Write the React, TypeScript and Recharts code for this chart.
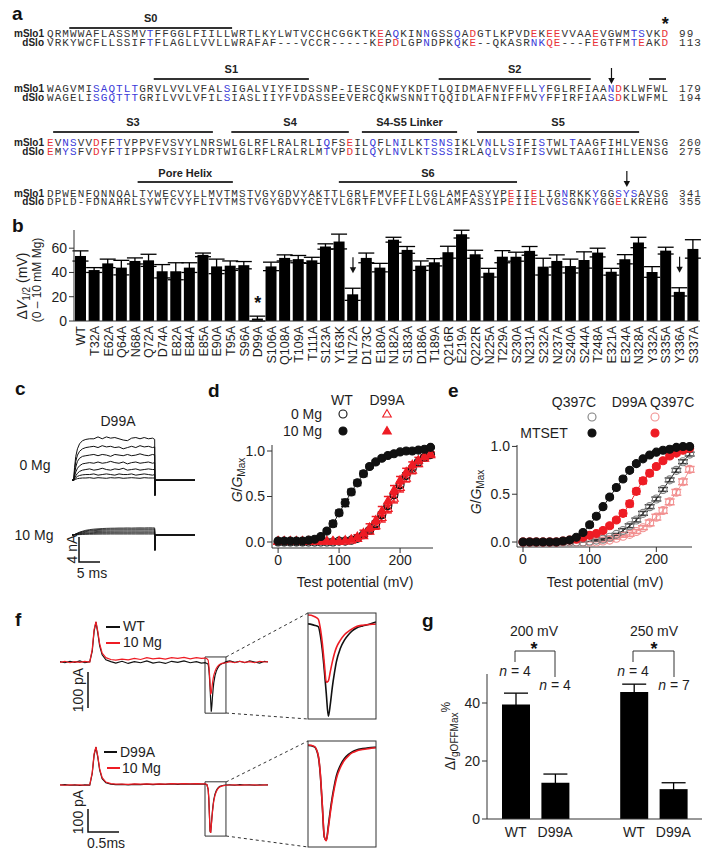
import React from 'react';
import { BarChart, Bar, XAxis, YAxis, ErrorBar, LineChart, Line, ReferenceArea, ReferenceDot } from 'recharts';

const FONT = '"Liberation Sans", Arial, Helvetica, sans-serif';
const MONO = '"Liberation Mono", "Courier New", monospace';
const INK = '#1e1e1e';
const AX = '#333';
const RED = '#ee1c24';
const LRED = '#f29090';
const GREY = '#808080';
const SEQ_INK = '#333';
const SEQ_RED = '#e8343a';
const SEQ_BLUE = '#3a3ad8';

// ---------------- Panel a : alignment ----------------
const mSlo1Seq = [
  'QRMWWAFLASSMVTFFGGLFIILLWRTLKYLWTVCCHCGGKTKEAQKINNGSSQADGTLKPVDEKEEVVAAEVGWMTSVKD',
  'WAGVMISAQTLTGRVLVVLVFALSIGALVIYFIDSSNP-IESCQNFYKDFTLQIDMAFNVFFLLYFGLRFIAANDKLWFWL',
  'EVNSVVDFFTVPPVFVSVYLNRSWLGLRFLRALRLIQFSEILQFLNILKTSNSIKLVNLLSIFISTWLTAAGFIHLVENSG',
  'DPWENFQNNQALTYWECVYLLMVTMSTVGYGDVYAKTTLGRLFMVFFILGGLAMFASYVPEIIELIGNRKKYGGSYSAVSG',
];
const dSloSeq = [
  'VRKYWCFLLSSIFTFLAGLLVVLLWRAFAF---VCCR-----KEPDLGPNDPKQKE--QKASRNKQE---FEGTFMTEAKD',
  'WAGELISGQTTTGRILVVLVFILSIASLIIYFVDASSEEVERCQKWSNNITQQIDLAFNIFFMVYFFIRFIAASDKLWFML',
  'EMYSFVDYFTIPPSFVSIYLDRTWIGLRFLRALRLMTVPDILQYLNVLKTSSSIRLAQLVSIFISVWLTAAGIIHLLENSG',
  'DPLD-FDNAHRLSYWTCVYFLIVTMSTVGYGDVYCETVLGRTFLVFFLLVGLAMFASSIPEIIELVGSGNKYGGELKREHG',
];
const mSlo1End = ['99', '179', '260', '341'];
const dSloEnd = ['113', '194', '275', '355'];
const mSlo1Blue = [
  [14, 46, 50, 54, 77, 78],
  [7, 8, 9, 10, 11, 12, 24, 65, 74],
  [3, 4, 10, 37, 43, 46, 50, 51, 52, 53, 58, 61, 65, 69],
  [68, 72, 75, 76, 77],
];
const mSlo1Red = [[44, 56, 64, 66, 67, 72, 81], [75], [1, 7, 40], [61, 64]];
const dSloBlue = [
  [14, 50, 54, 64, 65, 77],
  [7, 8, 9, 10, 11, 12, 24, 65, 74],
  [3, 4, 10, 37, 43, 46, 50, 51, 52, 53, 58, 61, 65],
  [68, 72],
];
const dSloRed = [[44, 46, 56, 66, 67, 72, 78, 81], [75], [1, 7, 40], [61, 64, 75]];
const segLabels = ['S0', 'S1', 'S2', '', 'S3', 'S4', 'S4-S5 Linker', 'S5', 'Pore Helix', 'S6'];
const segRows = [0, 1, 1, 1, 2, 2, 2, 2, 3, 3];
const segFrom = [2.9, 13.9, 51, 78.4, 0.8, 24, 41, 56, 11.8, 38];
const segTo = [24.1, 34.1, 70.8, 80.6, 21.6, 39.3, 53.4, 77.1, 24.2, 61.2];
const seqStarRow = 0, seqStarCol = 81;
const seqArrowRows = [1, 3];
const seqArrowCols = [74, 76];

// ---------------- Panel b ----------------
const bNames = ['WT','T32A','E62A','Q64A','N68A','Q72A','D74A','E82A','E84A','E85A','E90A','T95A','S96A','D99A','S106A','Q108A','T109A','T111A','S123A','Y163K','N172A','D173C','E180A','N182A','S183A','D186A','T189A','Q216R','E219A','Q222R','N225A','T229A','S230A','N231A','S232A','N237A','S240A','S244A','T248A','E321A','E324A','N328A','Y332A','S335A','Y336A','S337A'];
const bValues = [53.6,42,47.5,44,49.5,50,41,41,44,54.5,45,45.6,46,2,45,52,51,50,61.4,65.5,22,52,44,67,58.6,45.6,48.4,56.7,71.6,55,39.8,53,53,57.8,44.8,49.5,45.3,50.3,56.4,40.6,50.9,64.7,40.4,58,24,59.4];
const bErrors = [4.2,2,3.5,6,2.5,5,5.5,7,4,1.5,6,3.9,3,2,3.5,2.5,3,2.5,2.2,6.1,5,4,3.5,2,2.8,3.9,3,4.9,3.2,3.3,3.6,5,3.7,3.6,6.9,5,5.7,6.7,3.6,2.8,3.8,4.3,4.4,2.8,3.4,7.6];
const bStarred = ['D99A'];
const bArrowed = ['N172A', 'Y336A'];

// ---------------- Panel c ----------------
const tC = [0,0.4,0.6,0.9,1.3,1.8,2.5,3.3,4.2,5.2,6.2,7.2,8.2,9.2,10.2,11.2,12.2,13.2,14.2,15.2,16.2,17.2,18.2,19.2,19.7,19.76,19.82,29.3];
const c0Mg = [
  [0,0,2.0,3.8,5.0,5.8,6.3,6.5,6.6,6.6,6.9,6.6,6.9,6.7,6.8,6.6,6.4,6.3,6.7,6.8,6.6,6.8,6.6,6.7,6.5,-2.4,0,0],
  [0,0,1.5,3.0,4.0,4.6,5.0,5.2,5.3,5.4,5.2,5.5,5.3,5.4,5.2,5.3,5.0,5.2,5.4,5.2,5.5,5.3,5.4,5.2,5.3,-2.4,0,0],
  [0,0,1.0,2.1,3.0,3.5,3.8,3.9,4.0,4.1,3.9,4.1,4.0,3.8,4.1,4.0,3.9,4.1,3.9,4.0,4.2,4.0,3.9,4.1,4.0,-2.4,0,0],
  [0,0,0.6,1.3,1.9,2.3,2.6,2.7,2.8,2.7,2.9,2.7,2.8,3.0,2.8,2.7,2.9,2.6,2.8,2.9,2.7,2.8,2.9,2.7,2.8,-2.4,0,0],
  [0,0,0.3,0.7,1.1,1.4,1.6,1.7,1.8,1.6,1.7,1.9,1.7,1.6,1.8,1.7,1.9,1.6,1.7,1.8,1.6,1.7,1.8,1.7,1.7,-2.4,0,0],
  [0,0,0.15,0.4,0.6,0.75,0.85,0.9,0.9,1.0,0.8,0.9,1.0,0.9,0.8,1.0,0.9,0.9,1.0,0.8,0.9,1.0,0.9,0.8,0.9,-2.4,0,0],
  [0,0,0.05,0.15,0.25,0.3,0.35,0.35,0.4,0.3,0.4,0.35,0.3,0.4,0.35,0.4,0.3,0.35,0.4,0.35,0.3,0.4,0.35,0.35,0.35,-2.4,0,0],
];
const c10Mg = [
  [0,0,0.08,0.18,0.3,0.45,0.6,0.75,0.85,0.93,0.98,1.02,1.05,1.07,1.08,1.1,1.1,1.12,1.1,1.12,1.13,1.12,1.14,1.13,1.12,-2.4,0,0],
  [0,0,0.07,0.15,0.26,0.39,0.52,0.65,0.74,0.81,0.86,0.89,0.91,0.93,0.94,0.95,0.95,0.96,0.95,0.96,0.97,0.96,0.97,0.97,0.96,-2.4,0,0],
  [0,0,0.06,0.13,0.22,0.33,0.44,0.55,0.63,0.69,0.73,0.75,0.77,0.78,0.79,0.8,0.8,0.81,0.8,0.81,0.82,0.81,0.82,0.82,0.81,-2.4,0,0],
  [0,0,0.04,0.1,0.17,0.25,0.34,0.42,0.48,0.53,0.56,0.58,0.6,0.6,0.61,0.62,0.62,0.63,0.62,0.63,0.63,0.62,0.63,0.63,0.62,-2.4,0,0],
  [0,0,0.03,0.07,0.12,0.18,0.24,0.3,0.35,0.38,0.41,0.42,0.43,0.44,0.44,0.45,0.45,0.45,0.45,0.46,0.45,0.45,0.46,0.45,0.45,-2.4,0,0],
  [0,0,0.02,0.05,0.08,0.12,0.16,0.2,0.23,0.25,0.27,0.28,0.29,0.29,0.3,0.3,0.3,0.3,0.3,0.31,0.3,0.3,0.31,0.3,0.3,-2.4,0,0],
  [0,0,0.01,0.02,0.04,0.06,0.08,0.1,0.11,0.12,0.13,0.14,0.14,0.15,0.15,0.15,0.15,0.15,0.15,0.15,0.15,0.15,0.15,0.15,0.15,-2.4,0,0],
];

// ---------------- Panel d ----------------
const vD = [0,10,20,30,40,50,60,70,80,90,100,110,120,130,140,150,160,170,180,190,200,210,220,230,240,250];
const dWT10 = [0.01,0.01,0.01,0.01,0.01,0.02,0.03,0.06,0.12,0.2,0.32,0.43,0.55,0.65,0.75,0.83,0.88,0.92,0.95,0.97,0.99,1.0,1.0,1.01,1.02,1.04];
const dWT10Err = [0,0,0,0,0,0.01,0.01,0.01,0.02,0.03,0.03,0.04,0.03,0.03,0.03,0.02,0.02,0.02,0.01,0.01,0.01,0.01,0.01,0.01,0.01,0.01];
const dWT0 = [0,0,0,0,0,0,0,0,0,0,0.01,0.01,0.02,0.04,0.08,0.13,0.2,0.3,0.4,0.52,0.63,0.73,0.81,0.88,0.93,0.96];
const dWT0Err = [0,0,0,0,0,0,0,0,0,0,0,0.01,0.01,0.01,0.02,0.02,0.03,0.03,0.03,0.03,0.03,0.03,0.02,0.02,0.02,0.02];
const dD99A0 = [0.01,0.01,0.01,0.01,0.01,0.01,0.01,0.01,0.01,0.01,0.01,0.01,0.02,0.04,0.07,0.12,0.18,0.27,0.37,0.48,0.6,0.7,0.79,0.86,0.92,0.96];
const dD99A0Err = [0,0,0,0,0,0,0,0,0,0,0.01,0.01,0.01,0.02,0.02,0.03,0.04,0.05,0.05,0.05,0.05,0.04,0.04,0.03,0.03,0.03];
const dD99A10 = [0.01,0.01,0.01,0.01,0.01,0.01,0.01,0.01,0.01,0.01,0.01,0.02,0.03,0.06,0.1,0.16,0.24,0.34,0.45,0.57,0.68,0.77,0.85,0.9,0.94,0.97];
const dD99A10Err = [0,0,0,0,0,0,0,0,0,0,0.01,0.01,0.01,0.02,0.03,0.04,0.04,0.05,0.05,0.05,0.04,0.04,0.03,0.03,0.02,0.02];

// ---------------- Panel e ----------------
const vE = [0,10,20,30,40,50,60,70,80,90,100,110,120,130,140,150,160,170,180,190,200,210,220,230,240,250];
const eQ = [0,0,0,0,0,0,0,0,0,0,0.01,0.02,0.03,0.05,0.08,0.12,0.17,0.23,0.3,0.37,0.45,0.55,0.65,0.75,0.84,0.92];
const eQErr = [0,0,0,0,0,0,0,0,0,0,0,0.01,0.01,0.01,0.01,0.02,0.02,0.02,0.02,0.02,0.02,0.02,0.02,0.02,0.02,0.02];
const eDQ = [0,0,0,0,0,0,0,0,0,0,0,0,0.01,0.02,0.04,0.06,0.08,0.11,0.15,0.2,0.26,0.33,0.42,0.52,0.63,0.76];
const eDQErr = [0,0,0,0,0,0,0,0,0,0,0,0,0.01,0.01,0.01,0.01,0.02,0.02,0.02,0.03,0.03,0.03,0.03,0.03,0.03,0.03];
const eQM = [0,0,0,0,0,0,0.01,0.02,0.05,0.1,0.18,0.27,0.37,0.47,0.57,0.66,0.75,0.82,0.87,0.91,0.94,0.96,0.97,0.99,1.0,1.0];
const eQMErr = [0,0,0,0,0,0,0,0.01,0.01,0.01,0.02,0.02,0.02,0.02,0.02,0.02,0.02,0.02,0.01,0.01,0.01,0.01,0.01,0.01,0.01,0.01];
const eDQM = [0,0,0,0,0,0,0.01,0.02,0.03,0.05,0.07,0.09,0.12,0.17,0.23,0.3,0.4,0.53,0.64,0.72,0.79,0.85,0.9,0.93,0.96,0.98];
const eDQMErr = [0,0,0,0,0,0,0,0,0.01,0.01,0.01,0.01,0.02,0.02,0.02,0.03,0.03,0.03,0.03,0.03,0.02,0.02,0.02,0.02,0.02,0.01];

// ---------------- Panel f ----------------
const tF = [0,0.08,0.16,0.24,0.32,0.4,0.48,0.52,0.55,0.58,0.61,0.64,0.68,0.74,0.82,0.9,1.0,1.1,1.2,1.3,1.4,1.5,1.6,1.7,1.8,1.9,2.0,2.1,2.2,2.28,2.34,2.37,2.39,2.40,2.41,2.42,2.43,2.44,2.45,2.46,2.47,2.48,2.50,2.52,2.54,2.56,2.58,2.61,2.64,2.68,2.74,2.82,2.9,2.98,3.06,3.14,3.22,3.3,3.355];
const fWT = [1,-2,2,-1,3,-2,1, 30,85,111,80,45,20,6,1,-3, 2,-4,1,-2,3,-3,0,-4,2,-1, 3,-2,1,-3,-2,-4,-6, -18,-40,-70,-105,-138,-120,-95,-75,-58, -38,-26,-18,-12,-8,-5,-3,1, 3,-1,2,-2,3,0,-3,2,0];
const fWTMg = [-1,2,-2,1,-1,2,0, 35,90,112,85,50,25,12,7,5, 8,6,10,7,12,9,11,8,12,10, 13,9,12,10,11,9,5, -8,-30,-60,-88,-86,-72,-58,-46,-37, -26,-18,-13,-9,-6,-4,-3,-2, 1,-2,2,-1,1,-2,2,0,1];
const fD99A = [0,2,-1,1,-2,1,0, 50,130,165,120,65,28,10,4,2, 3,1,3,2,4,2,4,3,5,3, 5,4,5,4,4,1,-20, -60,-130,-200,-207,-175,-140,-110,-85,-64, -40,-25,-16,-10,-6,-3,-1,0, 1,-1,2,0,1,-1,1,0,1];
const fD99AMg = [1,-1,1,0,1,-1,1, 55,135,166,125,70,32,13,6,4, 4,3,5,4,5,4,5,4,6,5, 6,5,6,5,5,2,-18, -57,-127,-198,-208,-180,-146,-116,-91,-70, -45,-29,-19,-12,-8,-5,-3,-1, 0,1,-1,1,0,1,-1,1,0];

// ---------------- Panel g ----------------
const gIds = ['wt200', 'd200', 'gap', 'wt250', 'd250'];
const gLabels = ['WT', 'D99A', '', 'WT', 'D99A'];
const gValues = [39.5, 12.5, null, 43.8, 10.3];
const gErrors = [3.9, 3.0, null, 2.7, 2.2];
const gVoltages = ['200 mV', '250 mV'];
const gN = ['n = 4', 'n = 4', 'n = 4', 'n = 7'];

// ---------------- helpers ----------------
const COL_W = 7.68;
const SEQ_X = 47;
const SEQ_FS = 11;
const SEQ_LS = COL_W - 0.6 * SEQ_FS;
const ROW_M = [37, 92, 146, 196.5];
const ROW_D = [45.5, 100.5, 154.5, 205];
const BAR_Y = [28, 79, 132, 182];
const LABEL_Y = [22, 72.5, 126, 176.5];
const colX = (c: number) => SEQ_X + (c - 1) * COL_W + COL_W / 2;

function runs(s: string, blue: number[], red: number[]) {
  const out: { text: string; color: string; start: number }[] = [];
  for (let i = 0; i < s.length; i++) {
    const c = red.includes(i + 1) ? SEQ_RED : blue.includes(i + 1) ? SEQ_BLUE : SEQ_INK;
    const last = out[out.length - 1];
    if (last && last.color === c) last.text += s[i];
    else out.push({ text: s[i], color: c, start: i });
  }
  return out;
}

const SeqLine = ({ s, blue, red, y }: any) => (
  <g>
    {runs(s, blue, red).map((r, k) => (
      <text key={k} x={SEQ_X + r.start * COL_W} y={y} fill={r.color} fontFamily={MONO} fontSize={SEQ_FS}
        letterSpacing={SEQ_LS} style={{ whiteSpace: 'pre' }}>{r.text}</text>
    ))}
  </g>
);

const Marker = ({ shape, filled, color, cx, cy, r = 4 }: any) => {
  if (shape === 'tri') {
    const pts = `${cx},${cy - r - 0.5} ${cx - r - 0.3},${cy + r - 1} ${cx + r + 0.3},${cy + r - 1}`;
    return <polygon points={pts} fill={filled ? color : 'none'} stroke={color} strokeWidth={1.1} />;
  }
  return <circle cx={cx} cy={cy} r={r} fill={filled ? color : 'none'} stroke={color} strokeWidth={1.1} />;
};

const mkDot = (shape: string, filled: boolean, color: string) => (p: any) => {
  const { cx, cy, index } = p;
  if (cx == null || cy == null || isNaN(cy)) return <g key={`n${index}`} />;
  return (
    <g key={`m${index}`}>
      <Marker shape={shape} filled={filled} color={color} cx={cx} cy={cy} />
    </g>
  );
};

const Arrow = ({ x, cy }: any) => (
  <g>
    <line x1={x} y1={cy - 8} x2={x} y2={cy + 3} stroke="#111" strokeWidth={1.2} />
    <polygon points={`${x - 3.2},${cy + 2} ${x + 3.2},${cy + 2} ${x},${cy + 8}`} fill="#111" />
  </g>
);

const BTick = (p: any) => {
  const { x, y, payload } = p;
  const yy = y + 3;
  return (
    <text x={x} y={yy} transform={`rotate(-90 ${x} ${yy})`} textAnchor="end" dy="0.36em" fontSize={12.5} fill={INK} fontFamily={FONT}>
      {payload.value}
    </text>
  );
};

const GG = ({ x, y }: any) => (
  <text x={x} y={y} transform={`rotate(-90 ${x} ${y})`} textAnchor="middle" fontSize={14} fill={INK}>
    <tspan fontStyle="italic">G</tspan>/<tspan fontStyle="italic">G</tspan>
    <tspan fontSize={10} dy={3}>Max</tspan>
  </text>
);

const tickStyle = { fontSize: 14, fill: INK, fontFamily: FONT };

export default function App() {
  const bData = bNames.map((name, i) => ({ name, dv: bValues[i], err: bErrors[i] }));
  const cData0 = tC.map((t, i) => {
    const row: any = { t };
    c0Mg.forEach((tr, k) => (row['a' + k] = tr[i]));
    return row;
  });
  const cData10 = tC.map((t, i) => {
    const row: any = { t };
    c10Mg.forEach((tr, k) => (row['a' + k] = tr[i]));
    return row;
  });
  const dData = vD.map((v, i) => ({
    v, wt10: dWT10[i], wt10e: dWT10Err[i], wt0: dWT0[i], wt0e: dWT0Err[i],
    d0: dD99A0[i], d0e: dD99A0Err[i], d10: dD99A10[i], d10e: dD99A10Err[i],
  }));
  const eData = vE.map((v, i) => ({
    v, q: eQ[i], qe: eQErr[i], dq: eDQ[i], dqe: eDQErr[i],
    qm: eQM[i], qme: eQMErr[i], dqm: eDQM[i], dqme: eDQMErr[i],
  }));
  const fTopData = tF.map((t, i) => ({ t, a: fWT[i], b: fWTMg[i] }));
  const fBotData = tF.map((t, i) => ({ t, a: fD99A[i], b: fD99AMg[i] }));
  const gData = gIds.map((id, i) => ({ id, v: gValues[i], e: gErrors[i] }));
  const bTop = (n: string) => {
    const i = bNames.indexOf(n);
    return bValues[i] + bErrors[i];
  };

  const abs = (left: number, top: number): React.CSSProperties => ({ position: 'absolute', left, top });

  return (
    <div style={{ position: 'absolute', left: 0, top: 0, width: 708, height: 857, background: '#fff', fontFamily: FONT, overflow: 'hidden' }}>
      {/* Panel b */}
      <div style={abs(0, 220)}>
        <BarChart width={708} height={160} data={bData} margin={{ top: 10, right: 8, bottom: 0, left: 0 }}>
          <XAxis dataKey="name" interval={0} tickLine={false} tickSize={0} height={59} stroke={AX} tick={(p: any) => <BTick {...p} />} />
          <YAxis domain={[0, 75]} ticks={[0, 20, 40, 60]} width={74} tickSize={5} stroke={AX} tick={tickStyle} />
          <Bar dataKey="dv" fill="#000" barSize={11} isAnimationActive={false}>
            <ErrorBar dataKey="err" width={8} stroke="#000" strokeWidth={1.3} direction="y" />
          </Bar>
          {bStarred.map((n) => (
            <ReferenceDot key={n} x={n} y={bTop(n) + 14} r={0} ifOverflow="visible"
              shape={(p: any) => <text x={p.cx} y={p.cy + 10} textAnchor="middle" fontSize={18} fontWeight="bold" fill="#111">*</text>} />
          ))}
          {bArrowed.map((n) => (
            <ReferenceDot key={n} x={n} y={bTop(n) + 19} r={0} ifOverflow="visible"
              shape={(p: any) => <Arrow x={p.cx} cy={p.cy} />} />
          ))}
        </BarChart>
      </div>

      {/* Panel c */}
      <div style={abs(72, 430)}>
        <LineChart width={123} height={69} data={cData0} margin={{ top: 0, right: 0, bottom: 0, left: 0 }}>
          <XAxis type="number" dataKey="t" domain={[0, 29.3]} hide />
          <YAxis type="number" domain={[-3, 8]} hide />
          {c0Mg.map((_, k) => (
            <Line key={k} dataKey={'a' + k} type="linear" stroke="#111" strokeWidth={1} dot={false} activeDot={false} isAnimationActive={false} />
          ))}
        </LineChart>
      </div>
      <div style={abs(72, 516)}>
        <LineChart width={123} height={38} data={cData10} margin={{ top: 0, right: 0, bottom: 0, left: 0 }}>
          <XAxis type="number" dataKey="t" domain={[0, 29.3]} hide />
          <YAxis type="number" domain={[-3, 3]} hide />
          {c10Mg.map((_, k) => (
            <Line key={k} dataKey={'a' + k} type="linear" stroke="#111" strokeWidth={0.8} dot={false} activeDot={false} isAnimationActive={false} />
          ))}
        </LineChart>
      </div>

      {/* Panel d */}
      <div style={abs(200, 380)}>
        <LineChart width={240} height={220} data={dData} margin={{ top: 65, right: 7, bottom: 22, left: 0 }}>
          <XAxis type="number" dataKey="v" domain={[-10, 254]} ticks={[0, 100, 200]} tickSize={5} height={30} stroke={AX} tick={tickStyle} />
          <YAxis type="number" domain={[-0.066, 1.066]} ticks={[0, 0.5, 1]} tickFormatter={(v: number) => v.toFixed(1)} width={72} tickSize={5} stroke={AX} tick={tickStyle} />
          <Line dataKey="wt0" type="monotone" stroke="#111" strokeWidth={1} dot={mkDot('circle', false, '#111')} activeDot={false} isAnimationActive={false}>
            <ErrorBar dataKey="wt0e" width={4} stroke="#111" direction="y" />
          </Line>
          <Line dataKey="d0" type="monotone" stroke={RED} strokeWidth={1} dot={mkDot('tri', false, RED)} activeDot={false} isAnimationActive={false}>
            <ErrorBar dataKey="d0e" width={4} stroke={RED} direction="y" />
          </Line>
          <Line dataKey="d10" type="monotone" stroke={RED} strokeWidth={1} dot={mkDot('tri', true, RED)} activeDot={false} isAnimationActive={false}>
            <ErrorBar dataKey="d10e" width={4} stroke={RED} direction="y" />
          </Line>
          <Line dataKey="wt10" type="monotone" stroke="#111" strokeWidth={1} dot={mkDot('circle', true, '#111')} activeDot={false} isAnimationActive={false}>
            <ErrorBar dataKey="wt10e" width={4} stroke="#111" direction="y" />
          </Line>
        </LineChart>
      </div>

      {/* Panel e */}
      <div style={abs(440, 380)}>
        <LineChart width={260} height={220} data={eData} margin={{ top: 65, right: 8, bottom: 23, left: 0 }}>
          <XAxis type="number" dataKey="v" domain={[-9, 253.5]} ticks={[0, 100, 200]} tickSize={5} height={30} stroke={AX} tick={tickStyle} />
          <YAxis type="number" domain={[-0.052, 1.015]} ticks={[0, 0.5, 1]} tickFormatter={(v: number) => v.toFixed(1)} width={77} tickSize={5} stroke={AX} tick={tickStyle} />
          <Line dataKey="dq" type="monotone" stroke={LRED} strokeWidth={1} dot={mkDot('circle', false, LRED)} activeDot={false} isAnimationActive={false}>
            <ErrorBar dataKey="dqe" width={5} stroke={LRED} direction="y" />
          </Line>
          <Line dataKey="q" type="monotone" stroke="#222" strokeWidth={1} dot={mkDot('circle', false, GREY)} activeDot={false} isAnimationActive={false}>
            <ErrorBar dataKey="qe" width={5} stroke="#444" direction="y" />
          </Line>
          <Line dataKey="dqm" type="monotone" stroke={RED} strokeWidth={1} dot={mkDot('circle', true, RED)} activeDot={false} isAnimationActive={false}>
            <ErrorBar dataKey="dqme" width={4} stroke={RED} direction="y" />
          </Line>
          <Line dataKey="qm" type="monotone" stroke="#111" strokeWidth={1} dot={mkDot('circle', true, '#111')} activeDot={false} isAnimationActive={false}>
            <ErrorBar dataKey="qme" width={4} stroke="#111" direction="y" />
          </Line>
        </LineChart>
      </div>

      {/* Panel f main traces */}
      <div style={abs(60, 610)}>
        <LineChart width={208} height={110} data={fTopData} margin={{ top: 0, right: 0, bottom: 0, left: 0 }}>
          <XAxis type="number" dataKey="t" domain={[0, 3.355]} hide />
          <YAxis type="number" domain={[-161, 144.4]} hide />
          <Line dataKey="a" type="linear" stroke="#111" strokeWidth={1.2} dot={false} activeDot={false} isAnimationActive={false} />
          <Line dataKey="b" type="linear" stroke={RED} strokeWidth={1.2} dot={false} activeDot={false} isAnimationActive={false} />
          <ReferenceArea x1={2.339} x2={2.677} y1={-142} y2={14} fill="none" fillOpacity={0} stroke={AX} strokeWidth={1} ifOverflow="visible" />
        </LineChart>
      </div>
      <div style={abs(60, 740)}>
        <LineChart width={208} height={100} data={fBotData} margin={{ top: 0, right: 0, bottom: 0, left: 0 }}>
          <XAxis type="number" dataKey="t" domain={[0, 3.355]} hide />
          <YAxis type="number" domain={[-239, 195.7]} hide />
          <Line dataKey="a" type="linear" stroke="#111" strokeWidth={1.2} dot={false} activeDot={false} isAnimationActive={false} />
          <Line dataKey="b" type="linear" stroke={RED} strokeWidth={1.2} dot={false} activeDot={false} isAnimationActive={false} />
          <ReferenceArea x1={2.339} x2={2.677} y1={-222} y2={14} fill="none" fillOpacity={0} stroke={AX} strokeWidth={1} ifOverflow="visible" />
        </LineChart>
      </div>
      {/* Panel f insets */}
      <div style={abs(308, 613)}>
        <LineChart width={68} height={106} data={fTopData} margin={{ top: 0, right: 0, bottom: 0, left: 0 }}>
          <XAxis type="number" dataKey="t" domain={[2.339, 2.677]} allowDataOverflow hide />
          <YAxis type="number" domain={[-142, 14]} allowDataOverflow hide />
          <Line dataKey="a" type="monotone" stroke="#111" strokeWidth={1.6} dot={false} activeDot={false} isAnimationActive={false} />
          <Line dataKey="b" type="monotone" stroke={RED} strokeWidth={1.6} dot={false} activeDot={false} isAnimationActive={false} />
        </LineChart>
      </div>
      <div style={abs(308, 741)}>
        <LineChart width={68} height={106} data={fBotData} margin={{ top: 0, right: 0, bottom: 0, left: 0 }}>
          <XAxis type="number" dataKey="t" domain={[2.339, 2.677]} allowDataOverflow hide />
          <YAxis type="number" domain={[-222, 14]} allowDataOverflow hide />
          <Line dataKey="a" type="monotone" stroke="#111" strokeWidth={1.6} dot={false} activeDot={false} isAnimationActive={false} />
          <Line dataKey="b" type="monotone" stroke={RED} strokeWidth={1.6} dot={false} activeDot={false} isAnimationActive={false} />
        </LineChart>
      </div>

      {/* Panel g */}
      <div style={abs(400, 610)}>
        <BarChart width={310} height={240} data={gData} margin={{ top: 64, right: 8, bottom: 3, left: 0 }}>
          <XAxis dataKey="id" interval={0} tickLine={false} height={28} stroke={AX} tick={tickStyle} padding={{ left: 9, right: 9 }}
            tickFormatter={(_v: any, i: number) => gLabels[i]} />
          <YAxis domain={[0, 50]} ticks={[0, 20, 40]} width={87} tickSize={5} stroke={AX} tick={tickStyle} />
          <Bar dataKey="v" fill="#000" barSize={28} isAnimationActive={false}>
            <ErrorBar dataKey="e" width={12} stroke="#000" strokeWidth={1.3} direction="y" />
          </Bar>
        </BarChart>
      </div>

      {/* Overlay: text and decorations */}
      <svg width={708} height={857} style={{ position: 'absolute', left: 0, top: 0, pointerEvents: 'none' }} fontFamily={FONT}>
        {/* panel letters */}
        {[['a', 12, 20], ['b', 12, 232], ['c', 15, 395], ['d', 208, 397], ['e', 448, 397], ['f', 15, 626], ['g', 422, 627]].map(([l, x, y]) => (
          <text key={l as string} x={x as number} y={y as number} fontSize={19} fontWeight="bold" fill="#111">{l}</text>
        ))}

        {/* panel a */}
        {mSlo1Seq.map((s, r) => (
          <g key={'row' + r}>
            <text x={44} y={ROW_M[r]} textAnchor="end" fontSize={10} fontWeight="bold" fill="#222">mSlo1</text>
            <text x={44} y={ROW_D[r]} textAnchor="end" fontSize={10} fontWeight="bold" fill="#222">dSlo</text>
            <SeqLine s={s} blue={mSlo1Blue[r]} red={mSlo1Red[r]} y={ROW_M[r]} />
            <SeqLine s={dSloSeq[r]} blue={dSloBlue[r]} red={dSloRed[r]} y={ROW_D[r]} />
            <text x={679} y={ROW_M[r]} fontFamily={MONO} fontSize={SEQ_FS} letterSpacing={SEQ_LS} fill={SEQ_INK}>{mSlo1End[r]}</text>
            <text x={679} y={ROW_D[r]} fontFamily={MONO} fontSize={SEQ_FS} letterSpacing={SEQ_LS} fill={SEQ_INK}>{dSloEnd[r]}</text>
          </g>
        ))}
        {segLabels.map((lab, i) => {
          const x1 = SEQ_X + segFrom[i] * COL_W;
          const x2 = SEQ_X + segTo[i] * COL_W;
          const r = segRows[i];
          return (
            <g key={'seg' + i}>
              <line x1={x1} x2={x2} y1={BAR_Y[r]} y2={BAR_Y[r]} stroke="#333" strokeWidth={2} />
              {lab && <text x={(x1 + x2) / 2} y={LABEL_Y[r]} textAnchor="middle" fontSize={11} fontWeight="bold" fill="#222">{lab}</text>}
            </g>
          );
        })}
        <text x={colX(seqStarCol)} y={ROW_M[seqStarRow] - 7} textAnchor="middle" fontSize={18} fontWeight="bold" fill="#111">*</text>
        {seqArrowRows.map((r, i) => (
          <Arrow key={'sa' + i} x={colX(seqArrowCols[i])} cy={BAR_Y[r] - 3} />
        ))}

        {/* panel b y label */}
        <text x={27} y={286} transform="rotate(-90 27 286)" textAnchor="middle" fontSize={14} fill={INK}>
          Δ<tspan fontStyle="italic">V</tspan><tspan fontSize={10} dy={3}>1/2</tspan><tspan dy={-3}> (mV)</tspan>
        </text>
        <text x={41} y={280} transform="rotate(-90 41 280)" textAnchor="middle" fontSize={12} fill={INK}>(0 – 10 mM Mg)</text>

        {/* panel c */}
        <text x={118} y={426} textAnchor="middle" fontSize={14} fill={INK}>D99A</text>
        <text x={35} y={470} textAnchor="middle" fontSize={14} fill={INK}>0 Mg</text>
        <text x={34} y={540} textAnchor="middle" fontSize={14} fill={INK}>10 Mg</text>
        <path d="M79 537 V562 H100" fill="none" stroke="#111" strokeWidth={1.5} />
        <text x={77} y={549} transform="rotate(-90 77 549)" textAnchor="middle" fontSize={14} fill={INK}>4 nA</text>
        <text x={92} y={578} textAnchor="middle" fontSize={14} fill={INK}>5 ms</text>

        {/* panel d */}
        <text x={342} y={405} textAnchor="middle" fontSize={14} fill={INK}>WT</text>
        <text x={387} y={405} textAnchor="middle" fontSize={14} fill={INK}>D99A</text>
        <text x={322} y={419} textAnchor="end" fontSize={14} fill={INK}>0 Mg</text>
        <text x={322} y={436} textAnchor="end" fontSize={14} fill={INK}>10 Mg</text>
        <Marker shape="circle" filled={false} color="#111" cx={343} cy={414} />
        <Marker shape="tri" filled={false} color={RED} cx={387} cy={414} />
        <Marker shape="circle" filled color="#111" cx={343} cy={431} />
        <Marker shape="tri" filled color={RED} cx={387} cy={431} />
        <GG x={242} y={480} />
        <text x={355} y={587} textAnchor="middle" fontSize={14} fill={INK}>Test potential (mV)</text>

        {/* panel e */}
        <text x={574} y={407} textAnchor="middle" fontSize={14} fill={INK}>Q397C</text>
        <text x={653} y={407} textAnchor="middle" fontSize={14} fill={INK}>D99A Q397C</text>
        <text x={544} y={438} textAnchor="middle" fontSize={14} fill={INK}>MTSET</text>
        <Marker shape="circle" filled={false} color={GREY} cx={592} cy={417} />
        <Marker shape="circle" filled={false} color={LRED} cx={655} cy={417} />
        <Marker shape="circle" filled color="#111" cx={592} cy={433} />
        <Marker shape="circle" filled color={RED} cx={655} cy={433} />
        <GG x={481} y={492} />
        <text x={605} y={587} textAnchor="middle" fontSize={14} fill={INK}>Test potential (mV)</text>

        {/* panel f */}
        <line x1={106} x2={120} y1={627} y2={627} stroke="#111" strokeWidth={2} />
        <text x={123} y={631} fontSize={14} fill={INK}>WT</text>
        <line x1={106} x2={120} y1={643} y2={643} stroke={RED} strokeWidth={2} />
        <text x={123} y={647} fontSize={14} fill={INK}>10 Mg</text>
        <line x1={104} x2={117} y1={752} y2={752} stroke="#111" strokeWidth={2} />
        <text x={120} y={757} fontSize={14} fill={INK}>D99A</text>
        <line x1={107} x2={120} y1={768} y2={768} stroke={RED} strokeWidth={2} />
        <text x={122} y={773} fontSize={14} fill={INK}>10 Mg</text>
        <line x1={88} x2={88} y1={672} y2={708} stroke="#111" strokeWidth={1.5} />
        <text x={83} y={690} transform="rotate(-90 83 690)" textAnchor="middle" fontSize={14} fill={INK}>100 pA</text>
        <path d="M88 809 V832 H119" fill="none" stroke="#111" strokeWidth={1.5} />
        <text x={83} y={812} transform="rotate(-90 83 812)" textAnchor="middle" fontSize={14} fill={INK}>100 pA</text>
        <text x={106} y={848} textAnchor="middle" fontSize={14} fill={INK}>0.5ms</text>
        <line x1={226} y1={657} x2={308} y2={613} stroke="#333" strokeDasharray="3,3" />
        <line x1={226} y1={713} x2={308} y2={719} stroke="#333" strokeDasharray="3,3" />
        <line x1={226} y1={782} x2={308} y2={741} stroke="#333" strokeDasharray="3,3" />
        <line x1={226} y1={836} x2={308} y2={847} stroke="#333" strokeDasharray="3,3" />
        <rect x={308} y={613} width={68} height={106} fill="none" stroke="#333" />
        <rect x={308} y={741} width={68} height={106} fill="none" stroke="#333" />

        {/* panel g */}
        <text x={534} y={636} textAnchor="middle" fontSize={14} fill={INK}>{gVoltages[0]}</text>
        <text x={654} y={636} textAnchor="middle" fontSize={14} fill={INK}>{gVoltages[1]}</text>
        <text x={534} y={655} textAnchor="middle" fontSize={18} fontWeight="bold" fill="#111">*</text>
        <text x={654} y={655} textAnchor="middle" fontSize={18} fontWeight="bold" fill="#111">*</text>
        <path d="M515 662 V651 H555 V677" fill="none" stroke="#333" strokeWidth={1} />
        <path d="M633 662 V651 H674 V677" fill="none" stroke="#333" strokeWidth={1} />
        {[[515, 676], [555, 690], [633, 676], [674, 690]].map(([x, y], i) => (
          <text key={'n' + i} x={x} y={y} textAnchor="middle" fontSize={14} fill={INK}>
            <tspan fontStyle="italic">n</tspan>{gN[i].slice(1)}
          </text>
        ))}
        <text x={455} y={736} transform="rotate(-90 455 736)" textAnchor="middle" fontSize={14} fill={INK}>
          Δ<tspan fontStyle="italic">I</tspan><tspan fontSize={10} dy={3}>gOFFMax</tspan><tspan fontSize={12} dy={-8}>%</tspan>
        </text>
      </svg>
    </div>
  );
}
